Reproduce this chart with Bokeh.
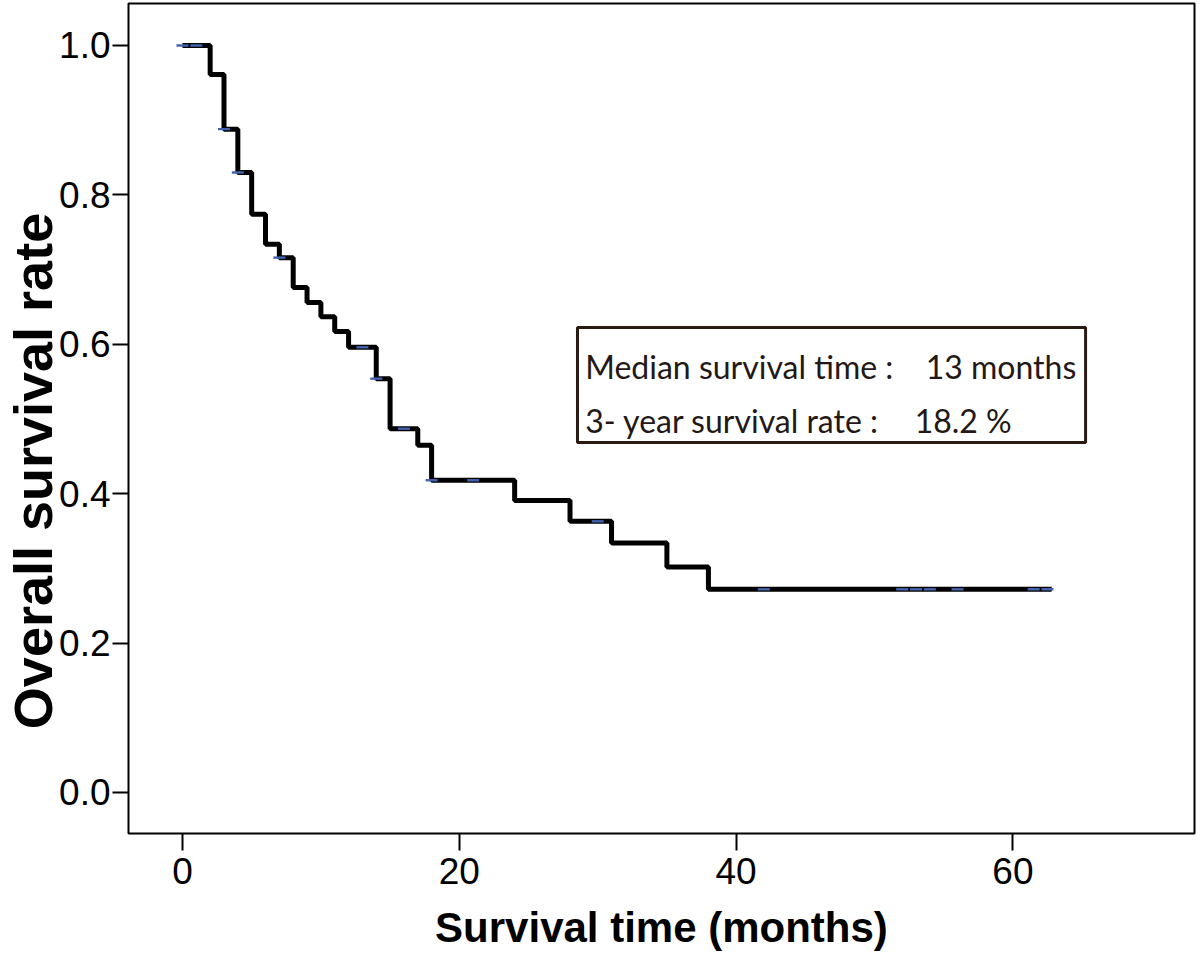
from bokeh.plotting import figure
from bokeh.models import BoxAnnotation, Label, FixedTicker, NumeralTickFormatter
from bokeh.embed import file_html
from bokeh.resources import INLINE
import numpy as np

# Kaplan-Meier steps
step_times = [0, 2, 3, 4, 5, 6, 7, 8, 9, 10, 11, 12, 14, 15, 17, 18, 24, 28, 31, 35, 38]
step_surv = [1.0, 0.961, 0.888, 0.830, 0.774, 0.734, 0.716, 0.676, 0.656, 0.637,
             0.617, 0.596, 0.554, 0.487, 0.465, 0.418, 0.391, 0.363, 0.334, 0.302, 0.272]
last_followup = 62.8

# censored observations (months)
censor_times = [0, 1, 3, 4, 7, 13, 14, 16, 18, 21, 30, 42, 52, 53, 54, 56, 61.5, 62.5]

x_ticks = [0, 20, 40, 60]
y_ticks = [0.0, 0.2, 0.4, 0.6, 0.8, 1.0]

x_title = "Survival time (months)"
y_title = "Overall survival rate"
info_labels = ["Median survival time :", "3- year survival rate :"]
info_values = ["13 months", "18.2 %"]

# step lookup for censor marks
st = np.array(step_times)
ss = np.array(step_surv)
censor_surv = [float(ss[np.searchsorted(st, t, side="right") - 1]) for t in censor_times]

line_x = step_times + [last_followup]
line_y = step_surv + [step_surv[-1]]

p = figure(frame_width=1066, frame_height=830,
           x_range=(-3.90, 73.12), y_range=(-0.0549, 1.0562),
           output_backend="svg", toolbar_location=None,
           min_border_top=3, min_border_right=2, min_border_left=128, min_border_bottom=129)

p.xgrid.visible = False
p.ygrid.visible = False
p.outline_line_color = "black"
p.outline_line_width = 2
p.background_fill_color = "white"
p.border_fill_color = "white"

p.step(line_x, line_y, mode="after", line_color="black", line_width=5)
p.scatter(censor_times, censor_surv, marker="dash", size=12,
          line_color="#4263b0", line_width=2.4)

for ax in (p.xaxis[0], p.yaxis[0]):
    ax.axis_line_color = None
    ax.major_tick_line_color = "black"
    ax.major_tick_line_width = 2
    ax.major_tick_in = 0
    ax.minor_tick_line_color = None
    ax.major_label_text_font = "Liberation Sans"
    ax.major_label_text_font_size = "37px"
    ax.major_label_text_color = "black"
    ax.axis_label_text_font = "Liberation Sans"
    ax.axis_label_text_font_style = "bold"
    ax.axis_label_text_color = "black"

p.xaxis.ticker = FixedTicker(ticks=x_ticks)
p.yaxis.ticker = FixedTicker(ticks=y_ticks)
p.yaxis.formatter = NumeralTickFormatter(format="0.0")
p.xaxis.major_tick_out = 17
p.yaxis.major_tick_out = 16
p.xaxis.major_label_standoff = 7
p.yaxis.major_label_standoff = 2

p.xaxis.axis_label = x_title
p.xaxis.axis_label_text_font_size = "42px"
p.xaxis.axis_label_standoff = 17
# trailing no-break spaces move the centred title a little towards the bottom, as in the original
p.yaxis.axis_label = y_title + "\u00a0" * 7
p.yaxis.axis_label_text_font_size = "54px"
p.yaxis.axis_label_standoff = -7

box = BoxAnnotation(left=28.54, right=65.25, bottom=0.4685, top=0.6225,
                    fill_color="white", fill_alpha=1.0,
                    line_color="#2a1a14", line_alpha=1.0, line_width=3)
p.add_layout(box)

for txt, val, yv, xv in zip(info_labels, info_values, [0.570, 0.498], [53.7, 52.9]):
    p.add_layout(Label(x=29.1, y=yv, text=txt, text_font="Lato",
                       text_font_size="32px", text_color="#231815",
                       text_baseline="alphabetic"))
    p.add_layout(Label(x=xv, y=yv, text=val, text_font="Lato",
                       text_font_size="32px", text_color="#231815",
                       text_baseline="alphabetic"))

open("out.html", "w").write(file_html(p, INLINE))
